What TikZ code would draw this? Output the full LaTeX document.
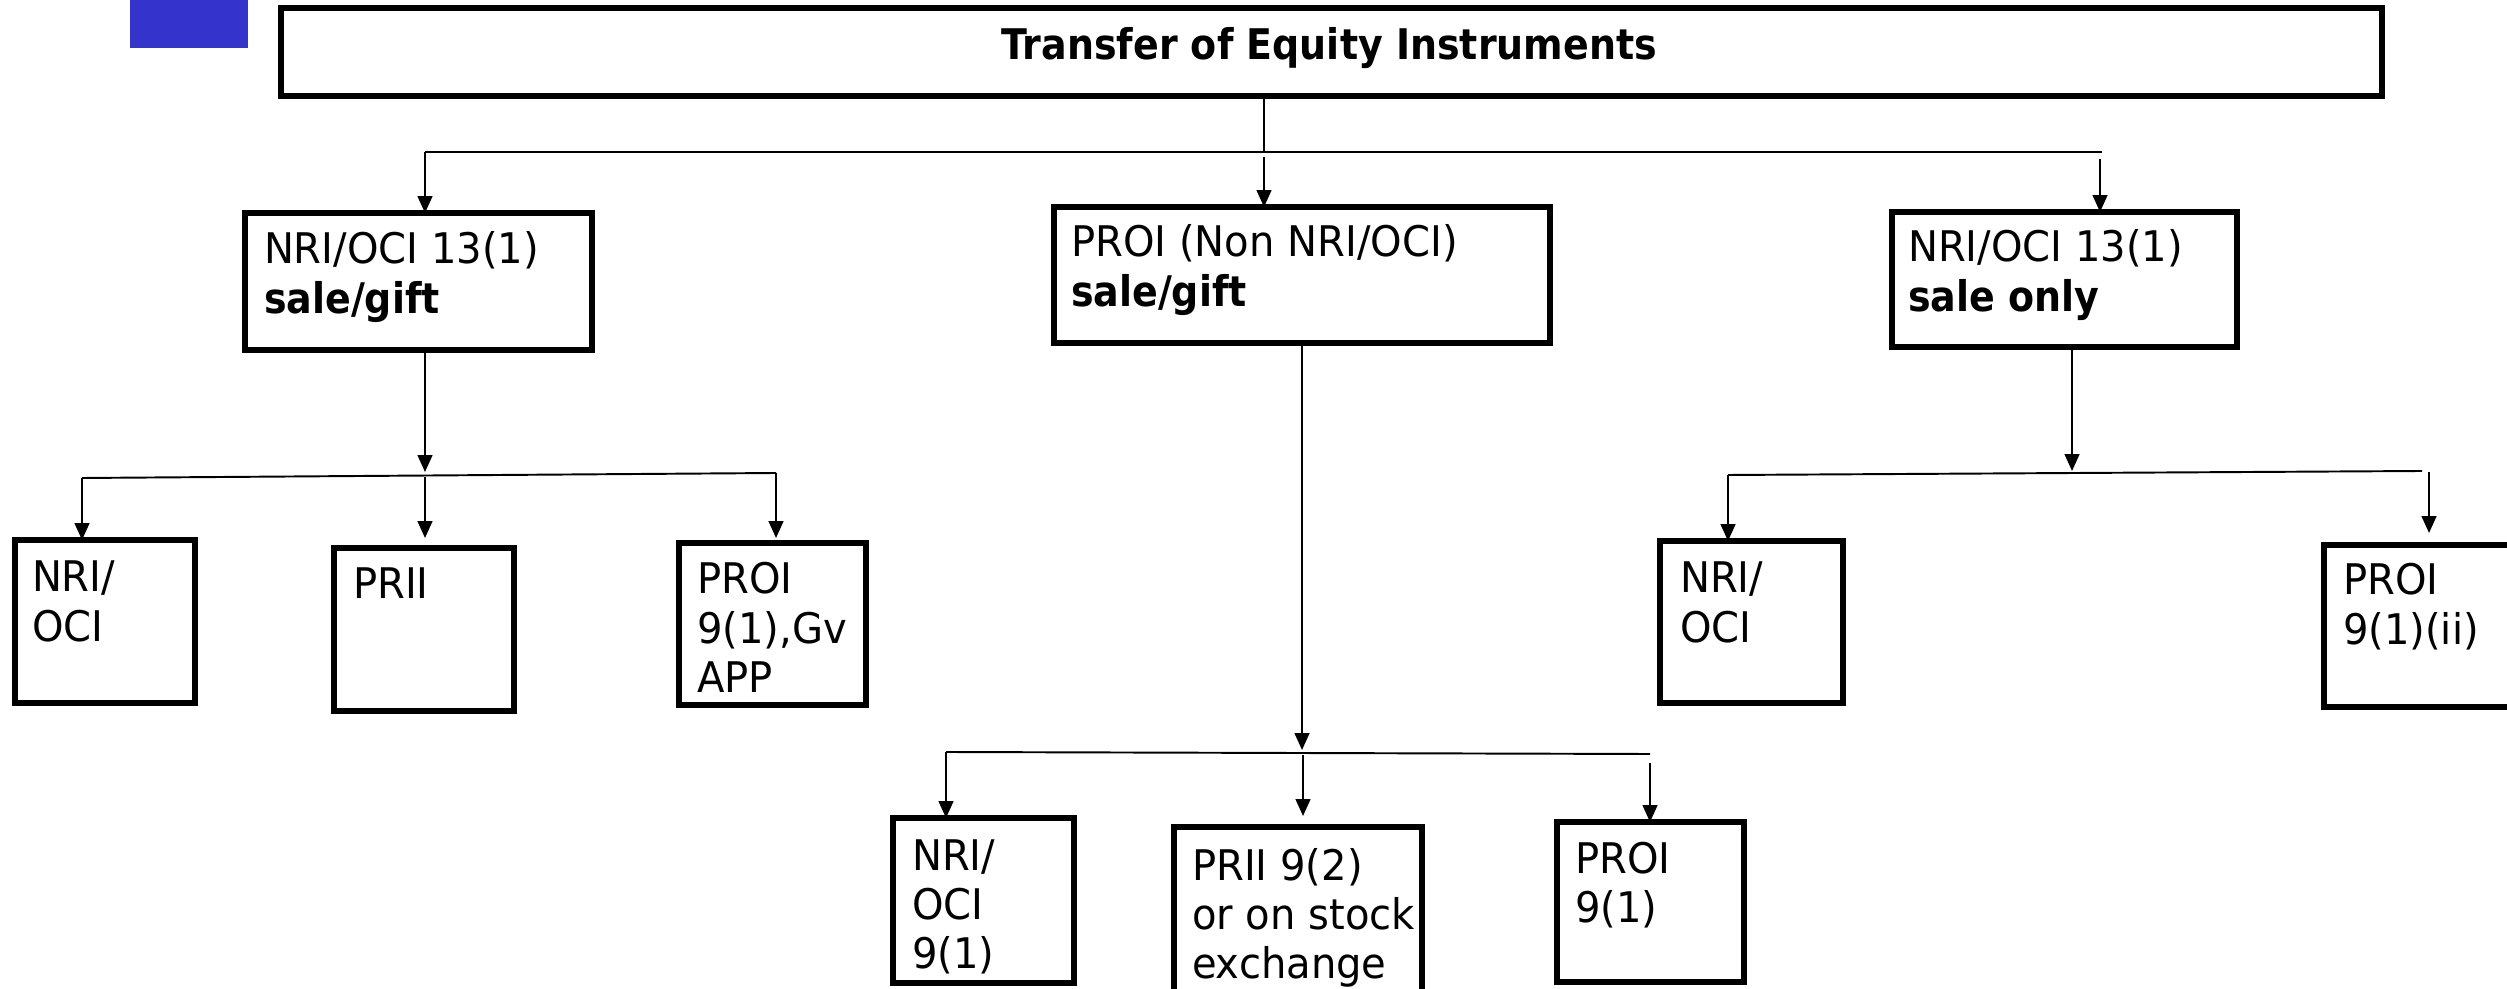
\documentclass[tikz,border=0pt]{standalone}
\usepackage{fontspec}
\setmainfont{DejaVu Sans}[FakeStretch=0.95,BoldFeatures={FakeStretch=0.9}]
\usetikzlibrary{arrows.meta,calc}

\definecolor{markblue}{RGB}{52,52,204}

% empty framed box given by its top-left and bottom-right corners
\newcommand\flowbox[5]{%
  \node[box, anchor=north west,
        minimum width={(#4-#2)*0.01cm},
        minimum height={(#5-#3)*0.01cm}] (#1) at (#2,#3) {};}
% left-aligned lines whose baseline is the first line
\newcommand\stacked[1]{\begin{tabular}[t]{@{}l@{}}#1\end{tabular}}

\begin{document}
\begin{tikzpicture}[x=0.01cm,y=-0.01cm,
  box/.style={draw, line width=1.5pt, inner sep=0pt, outer sep=0pt},
  txt/.style={inner sep=0pt, outer sep=0pt, font=\fontsize{12}{14}\selectfont},
  conn/.style={line width=0.55pt},
  arr/.style={conn, -{Triangle[length=4.8pt,width=4.2pt]}}]

\clip (0,0) rectangle (2507,989);

% corner mark
\fill[markblue] (130,0) rectangle (248,48);

% boxes
\flowbox{title}{281}{8}{2382}{96}
\flowbox{l1}{245}{213}{592}{350}
\flowbox{m1}{1054}{207}{1550}{343}
\flowbox{r1}{1892}{212}{2237}{347}
\flowbox{l2a}{15}{540}{195}{703}
\flowbox{l2b}{334}{548}{514}{711}
\flowbox{l2c}{679}{543}{866}{705}
\flowbox{m2a}{893}{818}{1074}{983}
\flowbox{m2b}{1174}{827}{1422}{1030}
\flowbox{m2c}{1557}{822}{1744}{982}
\flowbox{r2a}{1660}{541}{1843}{703}
\flowbox{r2b}{2324}{545}{2560}{707}

% texts
\node[txt, anchor=base] (titletext) at (1329,60) {\textbf{Transfer of Equity Instruments}};
\node[txt, anchor=base west] (l1t) at (264,264) {\stacked{NRI/OCI 13(1)\\ \textbf{sale/gift}}};
\node[txt, anchor=base west] (m1t) at (1071,257) {\stacked{PROI (Non NRI/OCI)\\ \textbf{sale/gift}}};
\node[txt, anchor=base west] (r1t) at (1908,262) {\stacked{NRI/OCI 13(1)\\ \textbf{sale only}}};
\node[txt, anchor=base west] (l2at) at (32,592) {\stacked{NRI/\\ OCI}};
\node[txt, anchor=base west] (l2bt) at (353,599) {PRII};
\node[txt, anchor=base west] (l2ct) at (697,594) {\stacked{PROI\\ 9(1),Gv\\ APP}};
\node[txt, anchor=base west] (m2at) at (912,870) {\stacked{NRI/\\ OCI\\ 9(1)}};
\node[txt, anchor=base west] (m2bt) at (1192,880) {\stacked{PRII 9(2)\\ or on stock\\ exchange}};
\node[txt, anchor=base west] (m2ct) at (1575,873) {\stacked{PROI\\ 9(1)}};
\node[txt, anchor=base west] (r2at) at (1680,593) {\stacked{NRI/\\ OCI}};
\node[txt, anchor=base west] (r2bt) at (2343,595) {\stacked{PROI\\ 9(1)(ii)}};

% first level
\coordinate (j0) at (1264,152);
\coordinate (b0l) at (425,152);
\coordinate (b0r) at (2102,152);
\coordinate (a0m) at (1264,157);
\coordinate (a0r) at (2100,159);
\draw[conn] (title.south -| j0) -- (j0);
\draw[conn] (b0l) -- (b0r);
\draw[arr] (b0l) -- (b0l |- l1.north);
\draw[arr] (a0m) -- (a0m |- m1.north);
\draw[arr] (a0r) -- (a0r |- r1.north);

% left branch
\coordinate (j1) at (425,472);
\coordinate (b1l) at (82,478);
\coordinate (b1r) at (776,473);
\coordinate (a1m) at (425,477);
\draw[arr] (l1.south -| j1) -- (j1);
\draw[conn] (b1l) -- (b1r);
\draw[arr] (b1l) -- (b1l |- l2a.north);
\draw[arr, shorten >=0.1cm] (a1m) -- (a1m |- l2b.north);
\draw[arr, shorten >=0.05cm] (b1r) -- (b1r |- l2c.north);

% middle branch
\coordinate (j2) at (1302,750);
\coordinate (b2l) at (946,752);
\coordinate (b2r) at (1650,754);
\coordinate (a2m) at (1303,755);
\coordinate (a2r) at (1650,763);
\draw[arr] (m1.south -| j2) -- (j2);
\draw[conn] (b2l) -- (b2r);
\draw[arr] (b2l) -- (b2l |- m2a.north);
\draw[arr, shorten >=0.11cm] (a2m) -- (a2m |- m2b.north);
\draw[arr] (a2r) -- (a2r |- m2c.north);

% right branch
\coordinate (j3) at (2072,471);
\coordinate (b3l) at (1728,475);
\coordinate (b3r) at (2422,471);
\coordinate (a3r) at (2429,472);
\draw[arr] (r1.south -| j3) -- (j3);
\draw[conn] (b3l) -- (b3r);
\draw[arr] (b3l) -- (b3l |- r2a.north);
\draw[arr, shorten >=0.12cm] (a3r) -- (a3r |- r2b.north);
\end{tikzpicture}
\end{document}
